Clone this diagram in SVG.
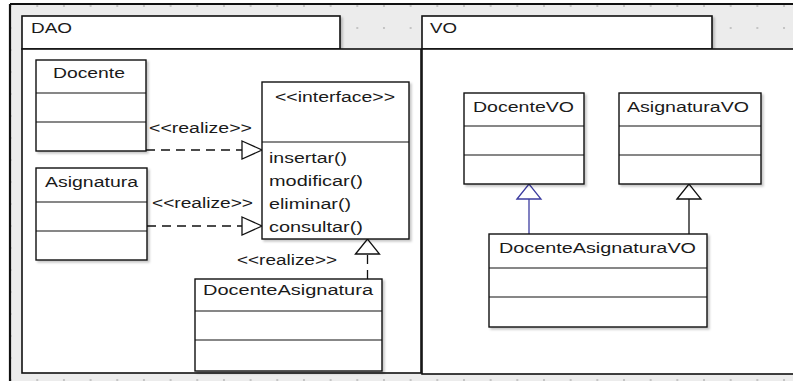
<svg xmlns="http://www.w3.org/2000/svg" width="793" height="381" viewBox="0 0 793 381">
  <style>
    text { font-family: "Liberation Sans", "DejaVu Sans", Arial, sans-serif; font-size: 14px; fill: #1a1a1a; }
    .box { fill: #ffffff; stroke: #111111; stroke-width: 1.4; }
    .pkg { fill: #ffffff; stroke: #111111; stroke-width: 1.6; }
    .div { stroke: #111111; stroke-width: 1.2; }
    .dash { fill: none; stroke: #111111; stroke-width: 1.3; stroke-dasharray: 9 6; }
    .solid { fill: none; stroke: #111111; stroke-width: 1.3; }
    .blue { fill: none; stroke: #3c3ca0; stroke-width: 1.3; }
    .shadow { filter: url(#drop); }
  </style>
  <defs>
    <pattern id="grid" x="9.6" y="5" width="26.67" height="22" patternUnits="userSpaceOnUse">
      <rect x="0" y="0" width="2" height="2" fill="#c4c4c4"/>
    </pattern>
    <filter id="drop" x="-5%" y="-5%" width="115%" height="115%">
      <feDropShadow dx="2" dy="2" stdDeviation="1" flood-color="#000000" flood-opacity="0.22"/>
    </filter>
    <!-- hollow triangle heads: wide form for horizontal links, tall form for vertical links -->
    <marker id="tri-h" markerUnits="userSpaceOnUse" orient="auto" markerWidth="22" markerHeight="20" refX="20" refY="9" overflow="visible">
      <path d="M0,0 L20,9 L0,18 Z" fill="#ffffff" stroke="#111111" stroke-width="1.3"/>
    </marker>
    <marker id="tri-v" markerUnits="userSpaceOnUse" orient="auto" markerWidth="17" markerHeight="26" refX="15" refY="12" overflow="visible">
      <path d="M0,0 L15,12 L0,24 Z" fill="#ffffff" stroke="#111111" stroke-width="1.3"/>
    </marker>
    <marker id="tri-v-blue" markerUnits="userSpaceOnUse" orient="auto" markerWidth="17" markerHeight="26" refX="15" refY="12" overflow="visible">
      <path d="M0,0 L15,12 L0,24 Z" fill="#ffffff" stroke="#3c3ca0" stroke-width="1.3"/>
    </marker>
  </defs>

  <!-- canvas -->
  <rect x="0" y="0" width="793" height="381" fill="#ffffff"/>
  <rect x="10" y="4" width="783" height="377" fill="#ececec"/>
  <rect x="10" y="4" width="783" height="377" fill="url(#grid)"/>
  <line x1="10" y1="4" x2="793" y2="4" stroke="#111111" stroke-width="2.2"/>
  <line x1="10" y1="4" x2="10" y2="381" stroke="#111111" stroke-width="2.2"/>

  <!-- package DAO -->
  <g id="pkg-dao">
    <rect class="pkg shadow" x="22" y="16" width="318" height="33"/>
    <rect class="pkg" x="22" y="49" width="399" height="324"/>
    <text x="31" y="33" textLength="41" lengthAdjust="spacingAndGlyphs">DAO</text>
  </g>

  <!-- package VO -->
  <g id="pkg-vo">
    <rect class="pkg shadow" x="422" y="16" width="290" height="33"/>
    <rect class="pkg" x="422" y="49" width="380" height="325"/>
    <text x="430" y="33" textLength="27" lengthAdjust="spacingAndGlyphs">VO</text>
  </g>

  <!-- connectors -->
  <g id="connectors">
    <path class="dash" d="M146,150 L262,150" marker-end="url(#tri-h)"/>
    <text x="149" y="133" textLength="103" lengthAdjust="spacingAndGlyphs">&lt;&lt;realize&gt;&gt;</text>
    <path class="dash" d="M147,226 L262,226" marker-end="url(#tri-h)"/>
    <text x="152" y="208" textLength="101" lengthAdjust="spacingAndGlyphs">&lt;&lt;realize&gt;&gt;</text>
    <path class="dash" d="M367.5,279 L367.5,239" marker-end="url(#tri-v)"/>
    <text x="237" y="265" textLength="100" lengthAdjust="spacingAndGlyphs">&lt;&lt;realize&gt;&gt;</text>
    <path class="blue" d="M529,234 L529,184" marker-end="url(#tri-v-blue)"/>
    <path class="solid" d="M689,234 L689,184" marker-end="url(#tri-v)"/>
  </g>

  <!-- DAO classes -->
  <g id="docente">
    <rect class="box shadow" x="36" y="60" width="110" height="91"/>
    <line class="div" x1="36" y1="93" x2="146" y2="93"/>
    <line class="div" x1="36" y1="122" x2="146" y2="122"/>
    <text x="53" y="78" textLength="72" lengthAdjust="spacingAndGlyphs">Docente</text>
  </g>
  <g id="asignatura">
    <rect class="box shadow" x="36" y="168" width="111" height="92"/>
    <line class="div" x1="36" y1="202" x2="147" y2="202"/>
    <line class="div" x1="36" y1="231" x2="147" y2="231"/>
    <text x="45" y="187" textLength="93" lengthAdjust="spacingAndGlyphs">Asignatura</text>
  </g>
  <g id="interface">
    <rect class="box shadow" x="262" y="82" width="147" height="157"/>
    <line class="div" x1="262" y1="142" x2="409" y2="142"/>
    <text x="275" y="102" textLength="120" lengthAdjust="spacingAndGlyphs">&lt;&lt;interface&gt;&gt;</text>
    <text x="269" y="163" textLength="78" lengthAdjust="spacingAndGlyphs">insertar()</text>
    <text x="269" y="186" textLength="94" lengthAdjust="spacingAndGlyphs">modificar()</text>
    <text x="269" y="209" textLength="82" lengthAdjust="spacingAndGlyphs">eliminar()</text>
    <text x="269" y="232" textLength="94" lengthAdjust="spacingAndGlyphs">consultar()</text>
  </g>
  <g id="docente-asignatura">
    <rect class="box shadow" x="195" y="279" width="187" height="92"/>
    <line class="div" x1="195" y1="311" x2="382" y2="311"/>
    <line class="div" x1="195" y1="340" x2="382" y2="340"/>
    <text x="203" y="295" textLength="170" lengthAdjust="spacingAndGlyphs">DocenteAsignatura</text>
  </g>

  <!-- VO classes -->
  <g id="docente-vo">
    <rect class="box shadow" x="464" y="93" width="120" height="91"/>
    <line class="div" x1="464" y1="126" x2="584" y2="126"/>
    <line class="div" x1="464" y1="155" x2="584" y2="155"/>
    <text x="473" y="112" textLength="101" lengthAdjust="spacingAndGlyphs">DocenteVO</text>
  </g>
  <g id="asignatura-vo">
    <rect class="box shadow" x="619" y="93" width="142" height="91"/>
    <line class="div" x1="619" y1="126" x2="761" y2="126"/>
    <line class="div" x1="619" y1="155" x2="761" y2="155"/>
    <text x="627" y="112" textLength="122" lengthAdjust="spacingAndGlyphs">AsignaturaVO</text>
  </g>
  <g id="docente-asignatura-vo">
    <rect class="box shadow" x="489" y="234" width="218" height="93"/>
    <line class="div" x1="489" y1="268" x2="707" y2="268"/>
    <line class="div" x1="489" y1="297" x2="707" y2="297"/>
    <text x="499" y="253" textLength="197" lengthAdjust="spacingAndGlyphs">DocenteAsignaturaVO</text>
  </g>
</svg>
